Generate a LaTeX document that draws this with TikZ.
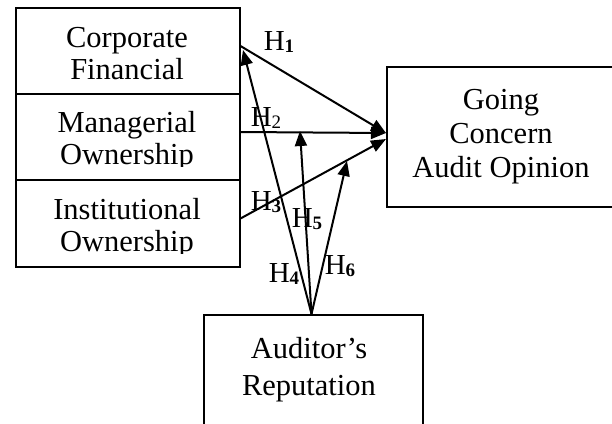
\documentclass[tikz,border=0pt]{standalone}
\usepackage{fontspec}
\setmainfont{Liberation Serif}
\usetikzlibrary{arrows.meta,calc}
\newcommand{\hsub}[2]{H\raisebox{-2pt}{\fontsize{19}{19}\selectfont #1{#2}}}
\begin{document}
\begin{tikzpicture}[x=1pt,y=-1pt,
  boxline/.style={draw=black,line width=2pt,inner sep=0pt},
  boxtext/.style={align=center,font=\fontsize{30.5}{32}\selectfont,inner sep=0pt},
  hyp/.style={line width=2pt,-{Triangle[length=15pt,width=12pt]}},
  hlabel/.style={font=\fontsize{29}{29}\selectfont,inner sep=0pt}]
\useasboundingbox (0,0) rectangle (612,423);
\clip (0,0) rectangle (612,423);
% boxes
\node[boxline, minimum width=224pt, minimum height=86pt] (cf) at (127.5,51) {};
\node[boxline, minimum width=224pt, minimum height=86pt] (mo) at (127.5,137) {};
\node[boxline, minimum width=224pt, minimum height=87pt] (io) at (127.5,223.5) {};
\node[boxline, minimum width=260pt, minimum height=140pt] (gc) at (517,137) {};
\node[boxline, minimum width=219pt, minimum height=140pt] (ar) at (313.5,385) {};
% texts
\node[boxtext] (cft) at (127,54) {Corporate\\Financial};
\begin{scope}
\clip (15,94) rectangle (240,166);
\node[boxtext] (mot) at (127,141) {Managerial\\Ownership};
\end{scope}
\begin{scope}
\clip (15,180) rectangle (240,253);
\node[boxtext] (iot) at (127,228) {Institutional\\Ownership};
\end{scope}
\node[boxtext, font=\fontsize{30.5}{34}\selectfont] (gct) at (501,137) {Going\\Concern\\Audit Opinion};
\node[boxtext, font=\fontsize{30.5}{37}\selectfont] (art) at (309,370) {Auditor’s\\Reputation};
% arrow targets
\coordinate (t4) at (243,50);
\coordinate (t5) at (300,131);
\coordinate (t6) at (347,161);
\coordinate (src) at ($(ar.north)+(-2,0)$);
% arrows
\draw[hyp] ([yshift=5pt]cf.east) -- ([yshift=4pt]gc.west);
\draw[hyp] ([yshift=5pt]mo.east) -- ([yshift=4pt]gc.west);
\draw[hyp] ([yshift=5pt]io.east) -- ([yshift=-2pt]gc.west);
\draw[hyp] (src) -- (t4);
\draw[hyp] (src) -- (t5);
\draw[hyp] (src) -- (t6);
% labels
\node[hlabel] (h1) at (279,42) {\hsub{\bfseries}{1}};
\node[hlabel] (h2) at (266,118) {\hsub{}{2}};
\node[hlabel] (h3) at (266,202) {\hsub{\bfseries}{3}};
\node[hlabel] (h4) at (284,274) {\hsub{\bfseries}{4}};
\node[hlabel] (h5) at (307,219) {\hsub{\bfseries}{5}};
\node[hlabel] (h6) at (340,266) {\hsub{\bfseries}{6}};
\end{tikzpicture}
\end{document}
